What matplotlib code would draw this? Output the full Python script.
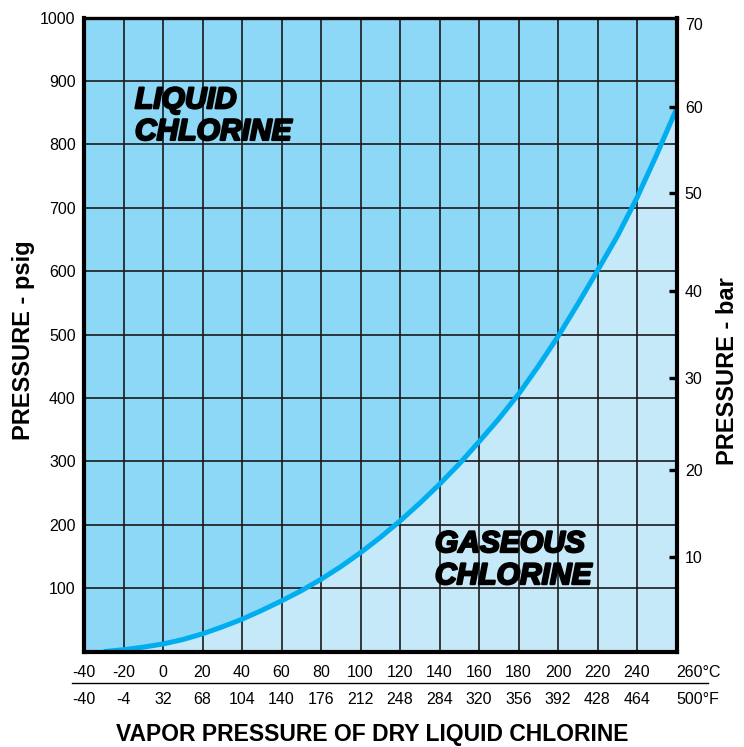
import matplotlib
matplotlib.use("Agg")
import matplotlib.pyplot as plt
import matplotlib.patheffects as pe
from matplotlib.ticker import FixedLocator, FixedFormatter

# Vapor pressure curve of dry liquid chlorine (temperature in °C, pressure in psig)
temp_c = [-30, -20, -10, 0, 10, 20, 30, 40, 50, 60, 70, 80, 90, 100, 110, 120,
          130, 140, 150, 160, 170, 180, 190, 200, 210, 220, 230, 240, 250, 260]
pressure_psig = [0, 3, 7, 12, 19, 28, 39, 51, 65, 80, 96, 114, 134, 156, 180, 206,
                 234, 264, 296, 331, 367, 406, 450, 497, 548, 601, 655, 716, 784, 856]

# Axis ticks
celsius_ticks = list(range(-40, 261, 20))
celsius_labels = ["-40", "-20", "0", "20", "40", "60", "80", "100", "120", "140",
                  "160", "180", "200", "220", "240", "260°C"]
fahrenheit_ticks = [-40, -4, 32, 68, 104, 140, 176, 212, 248, 284, 320, 356,
                    392, 428, 464, 500]
fahrenheit_labels = ["-40", "-4", "32", "68", "104", "140", "176", "212", "248",
                     "284", "320", "356", "392", "428", "464", "500°F"]
psig_ticks = [100, 200, 300, 400, 500, 600, 700, 800, 900, 1000]
bar_labels = ["10", "20", "30", "40", "50", "60"]
bar_tick_psig = [149, 286, 432, 568, 723, 859]
bar_top_label = "70"
bar_top_psig = 990

LIQUID_BLUE = "#8DD8F6"
GAS_BLUE = "#C6E9F9"
CURVE_BLUE = "#00AEEF"
TICK_SIZE = 11.5

plt.rcParams["font.family"] = ["Liberation Sans", "DejaVu Sans"]

fig = plt.figure(figsize=(7.44, 7.47), dpi=100)
ax = fig.add_axes([84 / 744, 1 - 651.6 / 747, 592.5 / 744, 634 / 747])
ax.set_xlim(-40, 260)
ax.set_ylim(0, 1000)
ax.set_facecolor(LIQUID_BLUE)

# gaseous region below the curve
ax.fill_between(temp_c, 0, pressure_psig, color=GAS_BLUE, lw=0, zorder=1)
ax.plot(temp_c, pressure_psig, color=CURVE_BLUE, lw=3.6, zorder=3,
        solid_capstyle="butt", solid_joinstyle="round")

ax.set_axisbelow(False)
ax.grid(True, color="#1a1a1a", lw=1.2)
ax.set_xticks(celsius_ticks, labels=celsius_labels)
ax.set_yticks(psig_ticks)
ax.tick_params(axis="y", length=0, pad=6, labelsize=TICK_SIZE)
ax.tick_params(axis="x", length=0, pad=10, labelsize=TICK_SIZE)
ax.get_xticklabels()[-1].set_horizontalalignment("left")

for name, sp in ax.spines.items():
    sp.set_linewidth(2.4 if name == "top" else 3.0)
    sp.set_color("black")
    sp.set_zorder(5)

# Fahrenheit row below the Celsius row
sec = ax.secondary_xaxis("bottom", functions=(lambda c: c * 9 / 5 + 32,
                                              lambda f: (f - 32) * 5 / 9))
sec.set_xticks(fahrenheit_ticks, labels=fahrenheit_labels)
sec.tick_params(length=0, pad=29, labelsize=TICK_SIZE)
sec.spines["bottom"].set_visible(False)
sec.get_xticklabels()[-1].set_horizontalalignment("left")

# divider between the two temperature rows
ax.plot([-0.020, 1.053], [-0.0495, -0.0495], transform=ax.transAxes,
        color="black", lw=1.0, clip_on=False)

# bar scale on the right
ax2 = ax.twinx()
ax2.set_ylim(0, 1000)
ax2.yaxis.set_major_locator(FixedLocator(bar_tick_psig))
ax2.yaxis.set_major_formatter(FixedFormatter(bar_labels))
ax2.yaxis.set_minor_locator(FixedLocator([bar_top_psig]))
ax2.yaxis.set_minor_formatter(FixedFormatter([bar_top_label]))
ax2.tick_params(axis="y", which="major", direction="in", length=5.8, width=2.4,
                pad=6, labelsize=TICK_SIZE)
ax2.tick_params(axis="y", which="minor", length=0, pad=6, labelsize=TICK_SIZE)
for sp in ax2.spines.values():
    sp.set_visible(False)

# region labels
region_style = dict(fontsize=21.6, fontweight="bold", fontstyle="italic",
                    color="black", va="baseline", ha="left", zorder=6,
                    path_effects=[pe.withStroke(linewidth=1.6, foreground="black")])
ax.text(-14.2, 857, "LIQUID", **region_style)
ax.text(-14.2, 807, "CHLORINE", **region_style)
ax.text(137.7, 157, "GASEOUS", **region_style)
ax.text(137.7, 106.5, "CHLORINE", **region_style)

# axis titles
fig.text(24 / 744, 1 - 340 / 747, "PRESSURE - psig", rotation=90,
         fontsize=17, fontweight="bold", ha="center", va="center")
fig.text(727 / 744, 1 - 371 / 747, "PRESSURE - bar", rotation=90,
         fontsize=17, fontweight="bold", ha="center", va="center")
fig.text(372.5 / 744, 6 / 747, "VAPOR PRESSURE OF DRY LIQUID CHLORINE",
         fontsize=16.5, fontweight="bold", ha="center", va="baseline")

fig.savefig("out.png", dpi=100)
